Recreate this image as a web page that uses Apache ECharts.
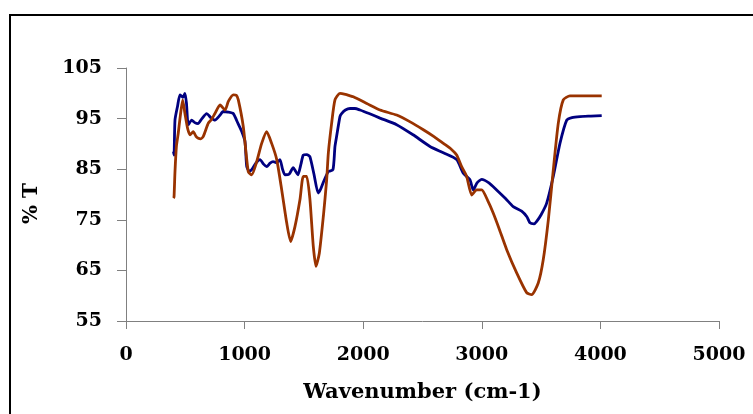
<!DOCTYPE html>
<html>
<head>
<meta charset="utf-8">
<script src="https://cdn.jsdelivr.net/npm/echarts@6/dist/echarts.min.js"></script>
<style>html,body{margin:0;padding:0;background:#fff}#c{width:753px;height:414px}</style>
</head>
<body>
<div id="c"></div>
<script>
var xTicks = [0, 1000, 2000, 3000, 4000, 5000];
var yTicks = [55, 65, 75, 85, 95, 105];

var blueX = [400, 405, 413, 435, 455, 480, 497, 510, 525, 554, 580, 607, 640, 680, 715, 750, 790, 820, 860, 904, 945, 975, 1003, 1018, 1040, 1060, 1095, 1130, 1160, 1186, 1215, 1240, 1270, 1298, 1320, 1340, 1375, 1410, 1430, 1450, 1475, 1495, 1525, 1550, 1585, 1620, 1640, 1662, 1705, 1745, 1762, 1776, 1804, 1818, 1850, 1889, 1930, 1973, 2050, 2142, 2282, 2420, 2563, 2680, 2788, 2844, 2900, 2928, 2960, 2999, 3060, 3125, 3200, 3265, 3336, 3380, 3406, 3440, 3463, 3500, 3547, 3603, 3659, 3716, 3760, 3828, 3920, 4011];
var blueY = [88.5, 87.8, 94.7, 97.5, 99.7, 99.2, 100, 98, 93.8, 94.7, 94.2, 94, 95, 96, 95.2, 94.7, 95.6, 96.4, 96.3, 96, 94, 92.5, 90.5, 85.5, 84.6, 84.9, 86.2, 86.9, 86.0, 85.5, 86.2, 86.5, 86.3, 86.9, 85.0, 83.9, 84.0, 85.3, 84.6, 83.9, 86.0, 87.8, 87.9, 87.5, 84.0, 80.3, 81.0, 82.3, 84.5, 84.9, 89.5, 91.5, 95.4, 96.0, 96.7, 97.0, 97.0, 96.7, 96.0, 95.1, 93.8, 91.8, 89.5, 88.2, 86.9, 84.2, 82.9, 80.9, 82.3, 83.0, 82.3, 80.9, 79.2, 77.6, 76.7, 75.6, 74.4, 74.2, 74.7, 76.0, 78.3, 83.6, 90.1, 94.7, 95.2, 95.4, 95.5, 95.6];

var orangeX = [400, 405, 413, 425, 440, 455, 478, 497, 520, 540, 567, 590, 610, 630, 652, 694, 720, 750, 793, 835, 863, 905, 930, 947, 989, 1031, 1060, 1102, 1144, 1186, 1228, 1271, 1313, 1355, 1388, 1425, 1467, 1495, 1523, 1551, 1579, 1602, 1630, 1664, 1692, 1706, 1734, 1762, 1804, 1850, 1889, 1917, 2030, 2142, 2282, 2400, 2507, 2600, 2676, 2740, 2788, 2830, 2872, 2915, 2957, 2999, 3050, 3097, 3150, 3210, 3294, 3378, 3420, 3476, 3518, 3561, 3603, 3645, 3687, 3743, 3850, 4011];
var orangeY = [79.3, 79.5, 84.5, 89.5, 92.0, 95.0, 98.7, 96.0, 93.0, 91.8, 92.4, 91.5, 91.1, 91.0, 91.5, 94.1, 94.8, 96.0, 97.7, 96.7, 98.4, 99.7, 99.6, 98.7, 93.4, 84.5, 83.9, 86.5, 90.1, 92.4, 90.1, 86.9, 80.9, 74.4, 70.7, 73.7, 79.0, 83.6, 83.6, 79.0, 69.8, 65.8, 68.4, 75.7, 82.9, 88.2, 94.1, 98.7, 100.0, 99.8, 99.5, 99.3, 98.0, 96.7, 95.7, 94.3, 92.8, 91.4, 90.1, 89.0, 87.8, 85.5, 83.6, 79.9, 80.9, 80.9, 78.8, 76.3, 73.0, 69.1, 64.5, 60.6, 60.2, 62.5, 67.1, 75.0, 84.9, 94.1, 98.7, 99.5, 99.5, 99.5];

function pairs(xs, ys) { return xs.map(function (x, i) { return [x, ys[i]]; }); }

var font = '"DejaVu Serif", "Liberation Serif", serif';
var chart = echarts.init(document.getElementById('c'), null, {renderer: 'canvas'});
chart.setOption({
  animation: false,
  backgroundColor: '#fff',
  graphic: [{
    type: 'polyline',
    shape: {points: [[10, 430], [10, 15], [760, 15]]},
    style: {stroke: '#000', lineWidth: 2, fill: null},
    silent: true
  }],
  grid: {left: 126, right: 34, top: 68, bottom: 93, containLabel: false},
  xAxis: {
    type: 'value', min: xTicks[0], max: xTicks[xTicks.length - 1], interval: 1000,
    name: 'Wavenumber (cm-1)', nameLocation: 'middle', nameGap: 61,
    nameTextStyle: {fontFamily: font, fontWeight: 'bold', fontSize: 21, color: '#000'},
    axisLine: {show: true, lineStyle: {color: '#808080', width: 1}},
    axisTick: {show: true, length: 8, lineStyle: {color: '#808080'}},
    axisLabel: {fontFamily: font, fontWeight: 'bold', fontSize: 19, color: '#000', margin: 25,
      formatter: function (v) { return String(v); }},
    splitLine: {show: false}
  },
  yAxis: {
    type: 'value', min: yTicks[0], max: yTicks[yTicks.length - 1], interval: 10,
    name: '% T', nameLocation: 'middle', nameGap: 84, nameRotate: 90,
    nameTextStyle: {fontFamily: font, fontWeight: 'bold', fontSize: 20, color: '#000', padding: [0, 18, 0, 0]},
    axisLine: {show: true, lineStyle: {color: '#808080', width: 1}},
    axisTick: {show: true, length: 9, lineStyle: {color: '#808080'}},
    axisLabel: {fontFamily: font, fontWeight: 'bold', fontSize: 19, color: '#000', margin: 24,
      formatter: function (v) { return String(v); }},
    splitLine: {show: false}
  },
  series: [
    {type: 'line', data: pairs(blueX, blueY), showSymbol: false, smooth: 0.2,
     lineStyle: {color: '#000080', width: 2.8}, z: 2},
    {type: 'line', data: pairs(orangeX, orangeY), showSymbol: false, smooth: 0.2,
     lineStyle: {color: '#993300', width: 2.8}, z: 3}
  ]
});
</script>
</body>
</html>
